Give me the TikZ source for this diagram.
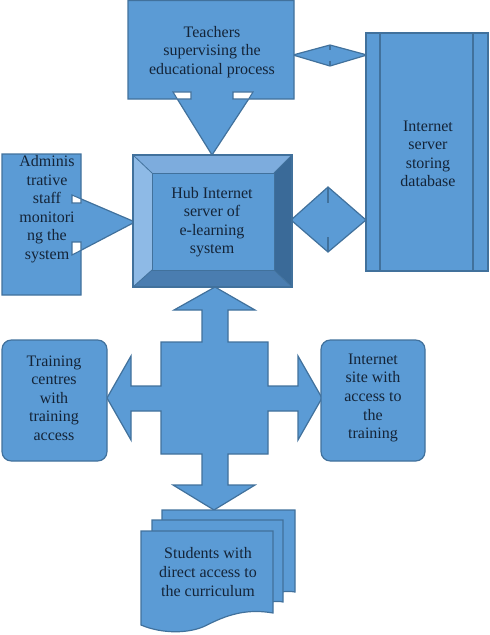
\documentclass[tikz,border=0pt]{standalone}
\usepackage{fontspec}
\setmainfont{Liberation Serif}
\definecolor{boxfill}{HTML}{5B9BD5}
\definecolor{boxline}{HTML}{41719C}
\definecolor{labeltext}{HTML}{142438}
\definecolor{bevtop}{HTML}{7DACDD}
\definecolor{bevleft}{HTML}{8EBAE6}
\definecolor{bevright}{HTML}{3A6A98}
\definecolor{bevbot}{HTML}{4A7DB0}
\begin{document}
\begin{tikzpicture}[x=0.75pt,y=-0.75pt,
  shapefill/.style={fill=boxfill,draw=boxline,line width=0.9pt,line join=miter},
  notch/.style={fill=white,draw=boxline,line width=0.8pt},
  thinline/.style={draw=boxline,line width=0.8pt},
  lbl/.style={text=labeltext,font=\fontsize{12}{13.9}\selectfont,align=center,inner sep=0pt}]
\useasboundingbox (0,0) rectangle (489,635);

% diamonds (double arrows)
\draw[shapefill] (293,55) -- (330,45) -- (367,55) -- (330,66) -- cycle;
\draw[thinline] (330,45) -- (330,50) (330,61) -- (330,66);
\draw[shapefill] (291,220) -- (328,187) -- (366,220) -- (328,252) -- cycle;
\draw[thinline] (328,187) -- (328,203) (328,237) -- (328,252);

% teachers callout
\draw[shapefill] (128,0.6) -- (294,0.6) -- (294,99) -- (248.7,99) -- (212,155) -- (177.3,99) -- (128,99) -- cycle;
\draw[notch] (173,92) -- (191,92) -- (191,99) -- (177.3,99) -- cycle;
\draw[notch] (233,92) -- (253,92) -- (248.7,99) -- (233,99) -- cycle;
\node[lbl] (teach) at (212,52) {Teachers\\supervising the\\educational process};

% database
\draw[shapefill] (366,33) rectangle (488,271);
\draw[thinline] (380,33) -- (380,271) (473,33) -- (473,271);
\node[lbl] (db) at (428,154) {Internet\\server\\storing\\database};

% admin callout
\draw[shapefill] (2,154) -- (81,154) -- (81,198.9) -- (135,222) -- (81,250.3) -- (81,295) -- (2,295) -- cycle;
\draw[notch] (72,195) -- (81,198.9) -- (81,203) -- (72,203) -- cycle;
\draw[notch] (72,242) -- (81,242) -- (81,250.3) -- (72,255) -- cycle;
\node[lbl] (admin) at (47,209) {Adminis\\trative\\staff\\monitori\\ng the\\system};

% hub bevel box
\fill[bevtop] (133,155) -- (292,155) -- (274,173) -- (152,173) -- cycle;
\fill[bevleft] (133,155) -- (152,173) -- (152,270) -- (133,287) -- cycle;
\fill[bevright] (292,155) -- (292,287) -- (274,270) -- (274,173) -- cycle;
\fill[bevbot] (133,287) -- (292,287) -- (274,270) -- (152,270) -- cycle;
\fill[boxfill] (152,173) rectangle (274,270);
\draw[boxline,line width=0.6pt] (133,155) -- (152,173) (292,155) -- (274,173) (133,287) -- (152,270) (292,287) -- (274,270);
\draw[boxline,line width=0.6pt] (152,173) rectangle (274,270);
\draw[boxline,line width=0.9pt] (133,155) rectangle (292,287);
\node[lbl] (hub) at (212,222) {Hub Internet\\server of\\e-learning\\system};

% four-way arrow
\draw[shapefill] (215,287) -- (255,310) -- (228,310) -- (228,342) -- (268,342) -- (268,386) -- (298,386) -- (298,356) -- (322,398) -- (298,440) -- (298,411) -- (268,411) -- (268,454) -- (228,454) -- (228,485) -- (255,485) -- (214,510) -- (173,485) -- (202,485) -- (202,454) -- (161,454) -- (161,411) -- (131,411) -- (131,440) -- (107,398) -- (131,356) -- (131,386) -- (161,386) -- (161,342) -- (202,342) -- (202,310) -- (174,310) -- cycle;

% side boxes
\draw[shapefill,rounded corners=7pt] (2,340) rectangle (107,461);
\node[lbl] (train) at (54,398) {Training\\centres\\with\\training\\access};
\draw[shapefill,rounded corners=7pt] (321,340) rectangle (425,461);
\node[lbl] (site) at (373,398) {Internet\\site with\\access to\\the\\training};

% students multidocument
\draw[shapefill] (162,598) -- (162,510) -- (295,510) -- (295,592) .. controls (285,590) and (274,593) .. (262,598) -- cycle;
\draw[shapefill] (152,608) -- (152,520) -- (283,520) -- (283,602) .. controls (275,600) and (264,603) .. (252,608) -- cycle;
\draw[shapefill] (141,531) -- (273,531) -- (273,613) .. controls (245,608) and (225,616) .. (207,625) .. controls (190,634) and (162,634) .. (141,625) -- cycle;
\node[lbl] (stud) at (208,572) {Students with\\direct access to\\the curriculum};
\end{tikzpicture}
\end{document}
